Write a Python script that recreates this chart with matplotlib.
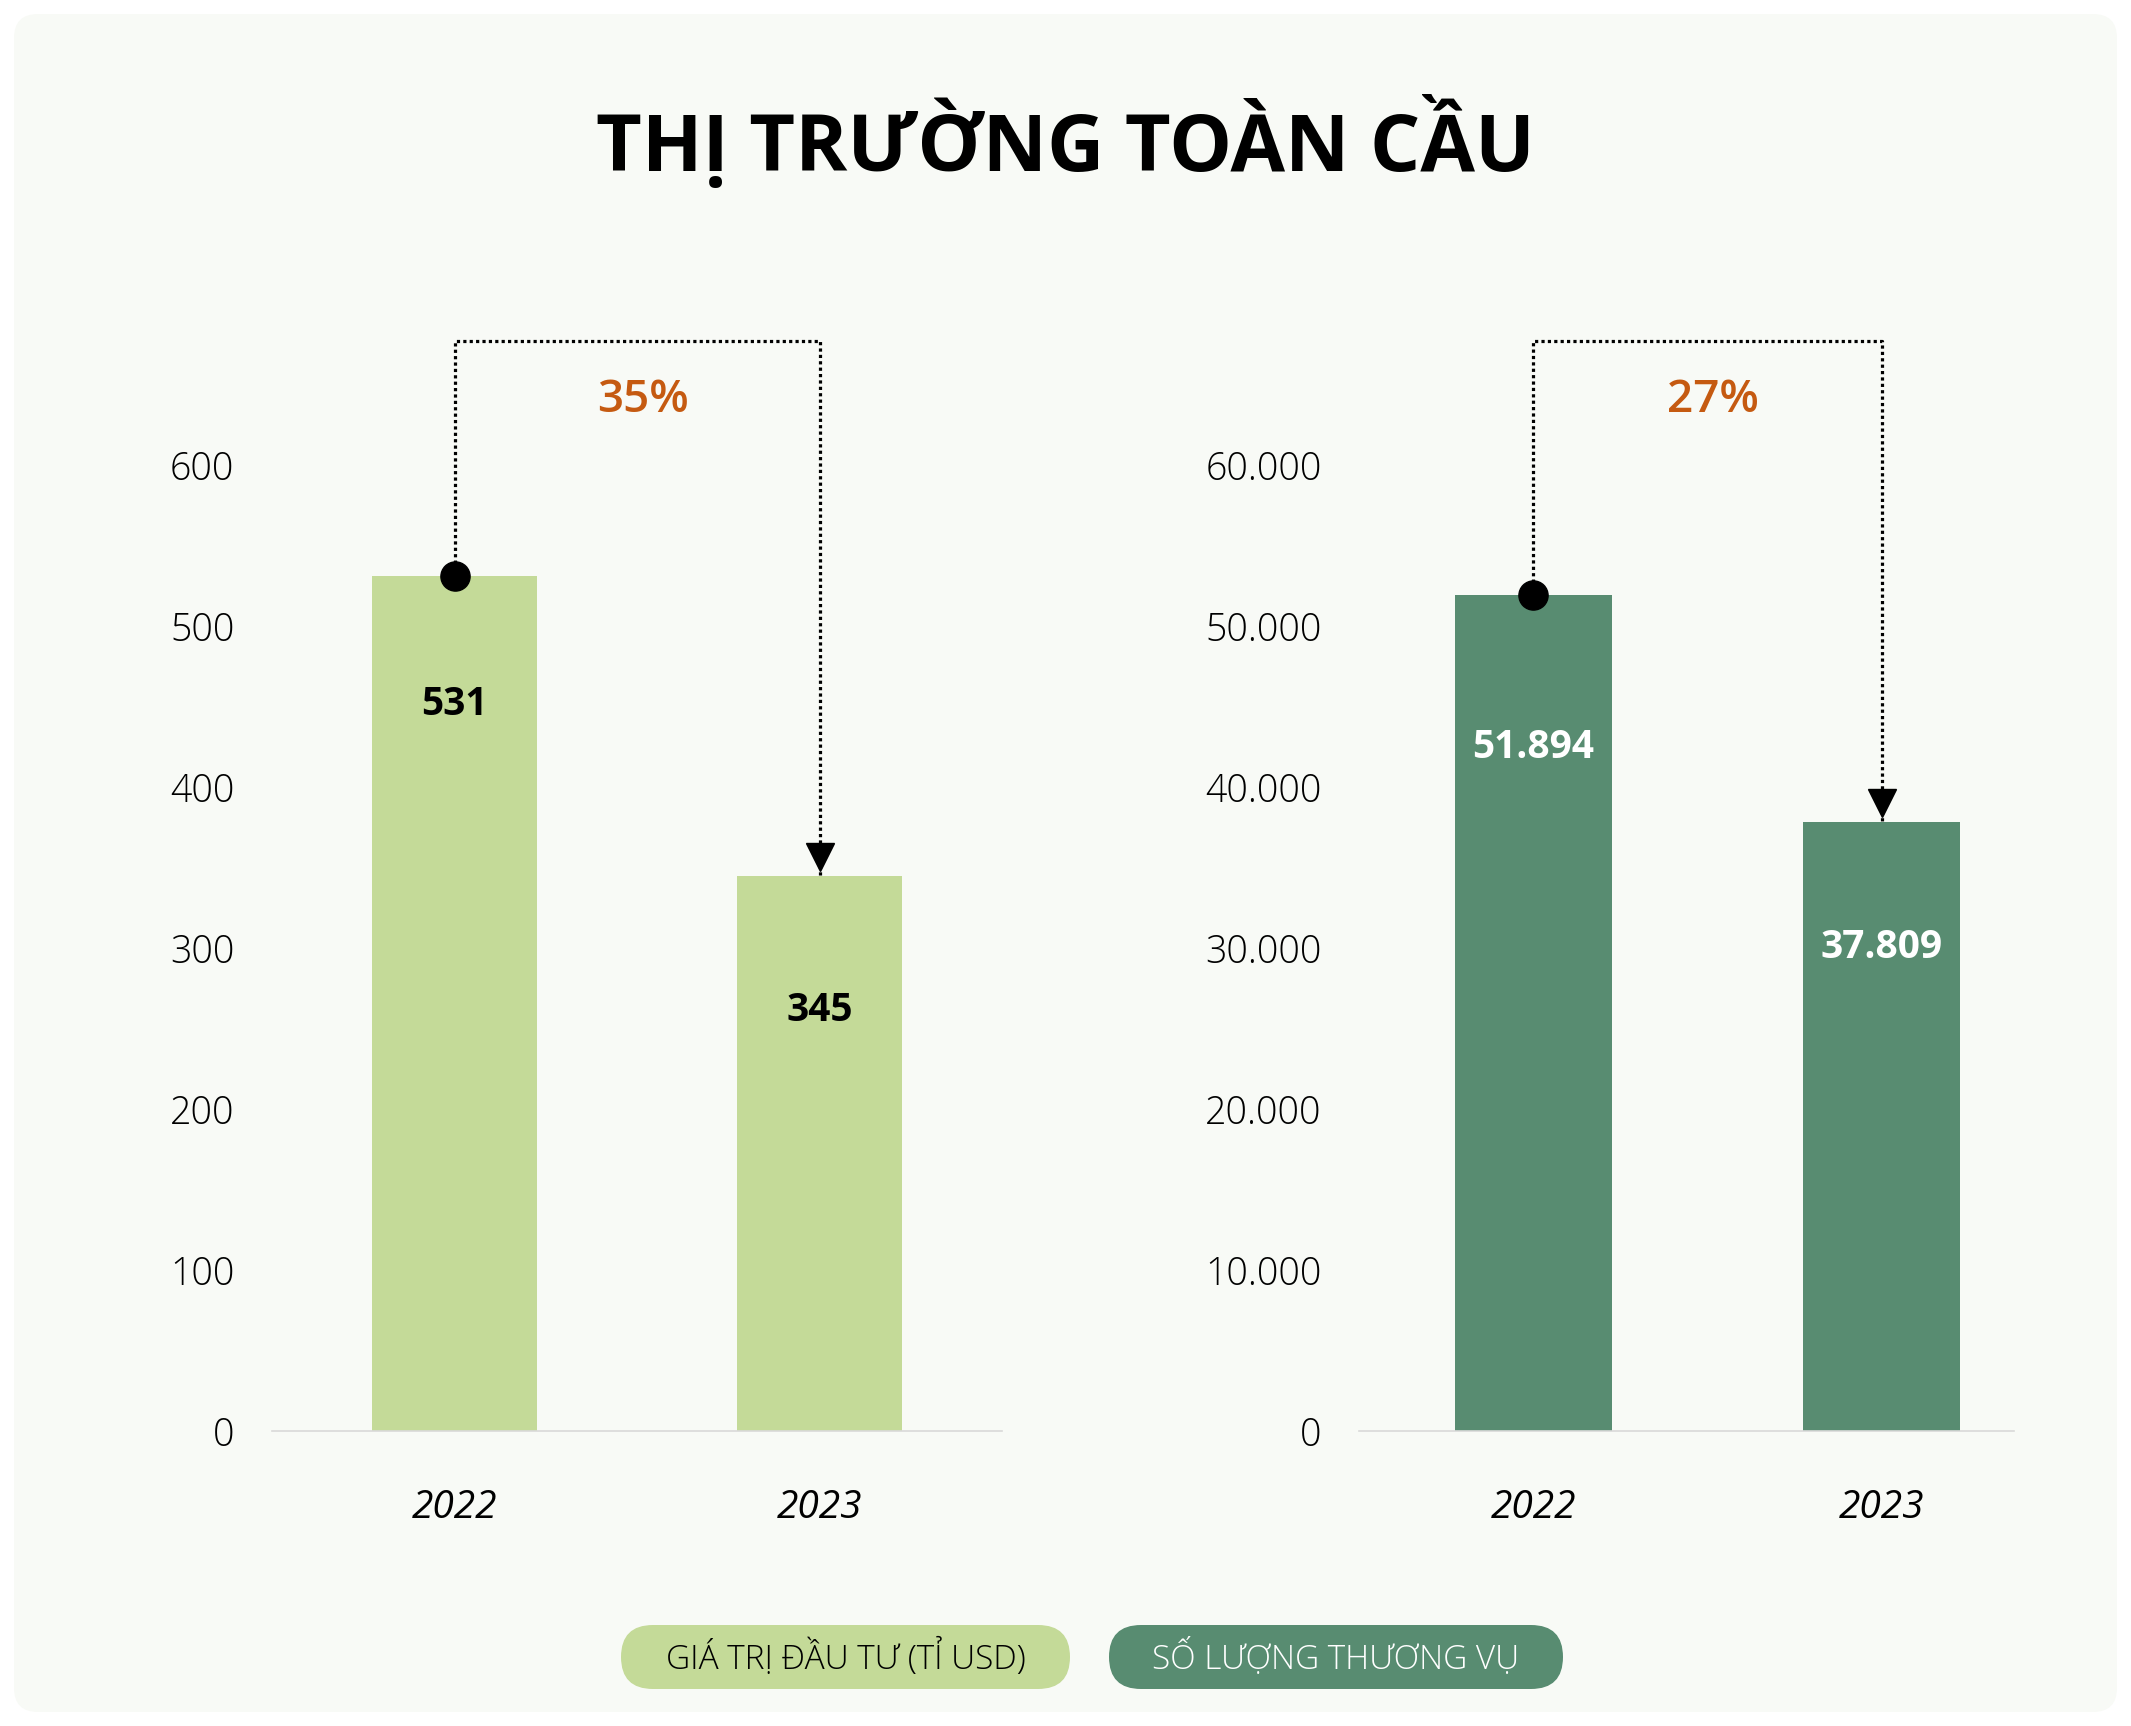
import matplotlib.pyplot as plt
from matplotlib.patches import FancyBboxPatch
from matplotlib.transforms import offset_copy, ScaledTranslation

# data
years = ['2022', '2023']
invest_value = [531, 345]          # Giá trị đầu tư (tỉ USD)
deal_count = [51894, 37809]        # Số lượng thương vụ
invest_labels = ['531', '345']
deal_labels = ['51.894', '37.809']
invest_ticks = [0, 100, 200, 300, 400, 500, 600]
invest_ticklabels = ['0', '100', '200', '300', '400', '500', '600']
deal_ticks = [0, 10000, 20000, 30000, 40000, 50000, 60000]
deal_ticklabels = ['0', '10.000', '20.000', '30.000', '40.000', '50.000', '60.000']
pct_changes = ['35%', '27%']
legend_names = ['GIÁ TRỊ ĐẦU TƯ (TỈ USD)', 'SỐ LƯỢNG THƯƠNG VỤ']

LIGHT = '#c4da98'
DARK = '#588c71'
ORANGE = '#c55a11'
CARD = '#f8faf6'
FONT = 'Open Sans'

W, H = 2131, 1726
fig = plt.figure(figsize=(W / 100, H / 100), dpi=100)
fig.patch.set_facecolor('white')

# background layer in pixel units
bg = fig.add_axes([0, 0, 1, 1], zorder=-1)
bg.set_xlim(0, W)
bg.set_ylim(H, 0)
bg.axis('off')
bg.add_patch(FancyBboxPatch((14, 14), W - 28, H - 28,
                            boxstyle='round,pad=0,rounding_size=24',
                            fc=CARD, ec='none'))
bg.text(W / 2, 143, 'THỊ TRƯỜNG TOÀN CẦU', ha='center', va='center',
        fontsize=57, fontweight='bold', family=FONT, color='black')

pills = [(621, 1070, LIGHT, 'black'), (1109, 1563, DARK, 'white')]
for (x0, x1, fc, tc), name in zip(pills, legend_names):
    bg.add_patch(FancyBboxPatch((x0, 1625), x1 - x0, 64,
                                boxstyle='round,pad=0,rounding_size=32',
                                fc=fc, ec='none'))
    bg.text((x0 + x1) / 2, 1658, name, ha='center', va='center',
            fontsize=24, fontweight='light', family=FONT, color=tc)


def panel(rect, values, labels, ticks, ticklabels, color, label_color,
          pct, ymax, xmax, bracket_top, label_offsets):
    ax = fig.add_axes(rect)
    ax.set_facecolor('none')
    x = range(len(values))
    ax.bar(x, values, width=0.45, color=color, zorder=2)
    ax.set_xlim(-0.5, xmax)
    ax.set_ylim(0, ymax)
    ax.set_yticks(ticks)
    ax.set_yticklabels(ticklabels, fontsize=27, fontweight='light',
                       family=FONT)
    ax.set_xticks(list(x))
    ax.set_xticklabels(years, fontsize=28, fontstyle='italic',
                       fontweight='medium', family=FONT)
    shift = ScaledTranslation(12 / 100, 0, fig.dpi_scale_trans)
    for t in ax.get_xticklabels():
        t.set_transform(t.get_transform() + shift)
    ax.tick_params(axis='y', length=0, pad=27)
    ax.tick_params(axis='x', length=0, pad=42)
    for s in ['top', 'right', 'left']:
        ax.spines[s].set_visible(False)
    ax.spines['bottom'].set_color('#d9d9d9')
    ax.spines['bottom'].set_linewidth(1.2)

    for i, (v, lab, off) in enumerate(zip(values, labels, label_offsets)):
        ax.annotate(lab, xy=(i, v), xytext=(0, off), textcoords='offset pixels',
                    ha='center', va='center', fontsize=28, fontweight='bold',
                    family=FONT, color=label_color, zorder=3)

    # change bracket
    tri_tr = offset_copy(ax.transData, fig=fig, x=0, y=19, units='dots')
    ax.plot([0, 0, 1, 1], [values[0], bracket_top, bracket_top, values[1]],
            color='black', lw=2.3, linestyle=(0, (1, 1)), clip_on=False,
            zorder=4)
    ax.plot(0, values[0], marker='o', markersize=21, color='black',
            clip_on=False, zorder=5)
    ax.plot(1, values[1], marker='v', markersize=20, color='black',
            clip_on=False, zorder=5, transform=tri_tr)
    ax.annotate(pct, xy=(0.5, bracket_top), xytext=(6, -60),
                textcoords='offset pixels', ha='center', va='center',
                fontsize=33, fontweight='semibold', family=FONT, color=ORANGE)
    return ax


left = panel([272 / W, 1 - 1431 / H, 730 / W, 1111 / H], invest_value,
             invest_labels, invest_ticks, invest_ticklabels, LIGHT, 'black',
             pct_changes[0], 690, 1.5, 677, [-128, -135])
right = panel([1359 / W, 1 - 1431 / H, 655 / W, 1111 / H], deal_count,
              deal_labels, deal_ticks, deal_ticklabels, DARK, 'white',
              pct_changes[1], 69000, 1.38, 67700, [-152, -125])

fig.savefig('out.png', dpi=100, facecolor=fig.get_facecolor())
